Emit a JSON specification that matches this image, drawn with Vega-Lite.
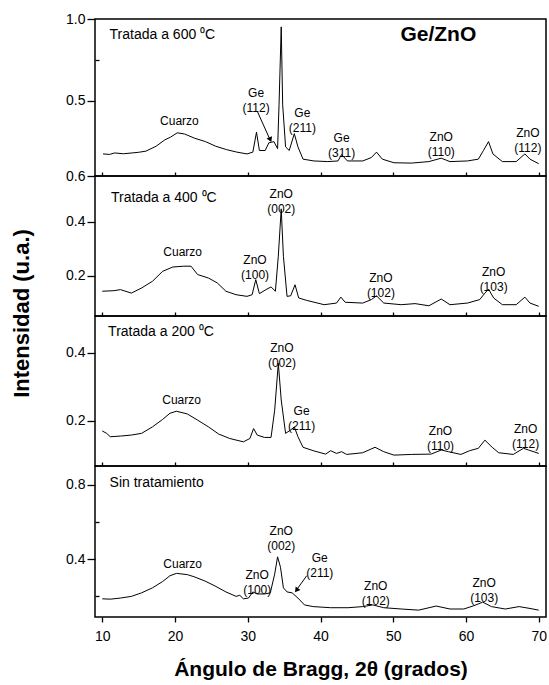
{
"$schema": "https://vega.github.io/schema/vega-lite/v6.json",
"background": "white",
"padding": {"left": 9, "top": 11, "right": 1, "bottom": 0},
"spacing": 0,
"bounds": "flush",
"config": {
  "font": "Liberation Sans",
  "view": {"stroke": "black", "strokeWidth": 1.5},
  "axis": {"domainColor": "black", "domainWidth": 1.5, "tickColor": "black", "tickWidth": 1.3, "labelColor": "black", "labelFontSize": 14, "labelFont": "Liberation Sans", "labelOverlap": false, "grid": false, "titleColor": "black", "titleFont": "Liberation Sans"},
  "text": {"font": "Liberation Sans", "color": "black"}
},
"datasets": {
  "p1": [
    {"angle":10.1,"intensity":0.175},{"angle":11.0,"intensity":0.172},{"angle":11.7,"intensity":0.181},{"angle":12.9,"intensity":0.176},{"angle":14.1,"intensity":0.181},{"angle":15.0,"intensity":0.185},{"angle":16.0,"intensity":0.192},{"angle":17.4,"intensity":0.222},{"angle":18.6,"intensity":0.261},{"angle":19.4,"intensity":0.278},{"angle":20.3,"intensity":0.304},{"angle":21.3,"intensity":0.297},{"angle":22.7,"intensity":0.271},{"angle":24.2,"intensity":0.25},{"angle":25.6,"intensity":0.222},{"angle":27.1,"intensity":0.201},{"angle":28.5,"intensity":0.186},{"angle":29.9,"intensity":0.175},{"angle":30.7,"intensity":0.186},{"angle":31.2,"intensity":0.308},{"angle":31.6,"intensity":0.196},{"angle":32.4,"intensity":0.196},{"angle":32.9,"intensity":0.243},{"angle":33.6,"intensity":0.25},{"angle":34.1,"intensity":0.207},{"angle":34.3,"intensity":0.475},{"angle":34.6,"intensity":0.952},{"angle":34.8,"intensity":0.475},{"angle":35.2,"intensity":0.218},{"angle":35.7,"intensity":0.196},{"angle":36.4,"intensity":0.299},{"angle":36.9,"intensity":0.218},{"angle":37.6,"intensity":0.143},{"angle":39.1,"intensity":0.132},{"angle":41.0,"intensity":0.128},{"angle":42.4,"intensity":0.132},{"angle":42.9,"intensity":0.171},{"angle":43.7,"intensity":0.132},{"angle":45.8,"intensity":0.132},{"angle":47.0,"intensity":0.153},{"angle":47.7,"intensity":0.186},{"angle":48.5,"intensity":0.143},{"angle":50.1,"intensity":0.121},{"angle":52.5,"intensity":0.119},{"angle":54.9,"intensity":0.128},{"angle":56.6,"intensity":0.149},{"angle":57.8,"intensity":0.128},{"angle":60.2,"intensity":0.132},{"angle":61.7,"intensity":0.143},{"angle":62.4,"intensity":0.196},{"angle":63.1,"intensity":0.25},{"angle":63.7,"intensity":0.175},{"angle":65.0,"intensity":0.128},{"angle":66.9,"intensity":0.128},{"angle":68.1,"intensity":0.175},{"angle":68.8,"intensity":0.143},{"angle":70.0,"intensity":0.115}
  ],
  "p2": [
    {"angle":10.0,"intensity":0.142},{"angle":11.6,"intensity":0.144},{"angle":12.5,"intensity":0.148},{"angle":14.0,"intensity":0.135},{"angle":15.4,"intensity":0.154},{"angle":16.9,"intensity":0.179},{"angle":18.3,"intensity":0.216},{"angle":19.7,"intensity":0.232},{"angle":21.2,"intensity":0.235},{"angle":22.2,"intensity":0.235},{"angle":23.1,"intensity":0.204},{"angle":24.6,"intensity":0.191},{"angle":25.8,"intensity":0.173},{"angle":27.0,"intensity":0.142},{"angle":28.4,"intensity":0.129},{"angle":29.9,"intensity":0.123},{"angle":30.6,"intensity":0.129},{"angle":31.1,"intensity":0.185},{"angle":31.6,"intensity":0.133},{"angle":32.5,"intensity":0.148},{"angle":33.2,"intensity":0.158},{"angle":33.8,"intensity":0.142},{"angle":34.2,"intensity":0.272},{"angle":34.6,"intensity":0.448},{"angle":34.9,"intensity":0.272},{"angle":35.4,"intensity":0.123},{"angle":35.9,"intensity":0.125},{"angle":36.5,"intensity":0.166},{"angle":37.0,"intensity":0.117},{"angle":38.1,"intensity":0.108},{"angle":40.5,"intensity":0.092},{"angle":42.2,"intensity":0.098},{"angle":42.8,"intensity":0.12},{"angle":43.4,"intensity":0.101},{"angle":45.8,"intensity":0.098},{"angle":47.0,"intensity":0.111},{"angle":47.7,"intensity":0.125},{"angle":48.7,"intensity":0.098},{"angle":51.1,"intensity":0.092},{"angle":53.0,"intensity":0.096},{"angle":54.9,"intensity":0.088},{"angle":56.6,"intensity":0.113},{"angle":57.8,"intensity":0.092},{"angle":60.2,"intensity":0.098},{"angle":61.9,"intensity":0.111},{"angle":62.6,"intensity":0.135},{"angle":63.1,"intensity":0.15},{"angle":63.8,"intensity":0.117},{"angle":65.0,"intensity":0.092},{"angle":66.9,"intensity":0.092},{"angle":68.1,"intensity":0.12},{"angle":68.8,"intensity":0.098},{"angle":70.0,"intensity":0.086}
  ],
  "p3": [
    {"angle":10.0,"intensity":0.17},{"angle":10.6,"intensity":0.163},{"angle":11.1,"intensity":0.153},{"angle":12.5,"intensity":0.155},{"angle":14.0,"intensity":0.158},{"angle":15.4,"intensity":0.163},{"angle":16.9,"intensity":0.182},{"angle":18.3,"intensity":0.204},{"angle":19.3,"intensity":0.222},{"angle":20.2,"intensity":0.228},{"angle":21.7,"intensity":0.22},{"angle":23.1,"intensity":0.202},{"angle":24.6,"intensity":0.182},{"angle":26.0,"intensity":0.161},{"angle":27.5,"intensity":0.148},{"angle":29.4,"intensity":0.138},{"angle":30.3,"intensity":0.148},{"angle":30.8,"intensity":0.177},{"angle":31.3,"intensity":0.158},{"angle":32.3,"intensity":0.151},{"angle":33.2,"intensity":0.151},{"angle":33.7,"intensity":0.231},{"angle":34.2,"intensity":0.369},{"angle":34.6,"intensity":0.261},{"angle":35.2,"intensity":0.163},{"angle":35.9,"intensity":0.173},{"angle":36.4,"intensity":0.182},{"angle":36.9,"intensity":0.153},{"angle":37.6,"intensity":0.122},{"angle":39.0,"intensity":0.112},{"angle":40.7,"intensity":0.102},{"angle":41.4,"intensity":0.112},{"angle":42.2,"intensity":0.104},{"angle":42.9,"intensity":0.109},{"angle":43.6,"intensity":0.101},{"angle":45.8,"intensity":0.106},{"angle":47.5,"intensity":0.122},{"angle":48.7,"intensity":0.109},{"angle":50.1,"intensity":0.099},{"angle":52.5,"intensity":0.101},{"angle":55.2,"intensity":0.102},{"angle":56.6,"intensity":0.114},{"angle":57.6,"intensity":0.109},{"angle":59.3,"intensity":0.101},{"angle":60.5,"intensity":0.112},{"angle":61.7,"intensity":0.119},{"angle":62.6,"intensity":0.143},{"angle":63.6,"intensity":0.122},{"angle":64.5,"intensity":0.106},{"angle":66.5,"intensity":0.101},{"angle":67.9,"intensity":0.119},{"angle":68.6,"intensity":0.114},{"angle":70.0,"intensity":0.104}
  ],
  "p4": [
    {"angle":10.0,"intensity":0.187},{"angle":11.1,"intensity":0.185},{"angle":12.5,"intensity":0.191},{"angle":14.0,"intensity":0.2},{"angle":15.4,"intensity":0.219},{"angle":16.9,"intensity":0.246},{"angle":18.3,"intensity":0.28},{"angle":19.3,"intensity":0.311},{"angle":20.2,"intensity":0.324},{"angle":21.7,"intensity":0.317},{"angle":22.6,"intensity":0.306},{"angle":24.1,"intensity":0.283},{"angle":25.5,"intensity":0.256},{"angle":27.0,"intensity":0.224},{"angle":28.4,"intensity":0.2},{"angle":28.9,"intensity":0.206},{"angle":29.4,"intensity":0.187},{"angle":30.1,"intensity":0.191},{"angle":30.7,"intensity":0.224},{"angle":31.3,"intensity":0.213},{"angle":32.3,"intensity":0.213},{"angle":33.1,"intensity":0.219},{"angle":33.7,"intensity":0.32},{"angle":34.1,"intensity":0.413},{"angle":34.5,"intensity":0.357},{"angle":34.9,"intensity":0.246},{"angle":35.4,"intensity":0.224},{"angle":36.1,"intensity":0.219},{"angle":36.9,"intensity":0.191},{"angle":37.8,"intensity":0.154},{"angle":39.0,"intensity":0.145},{"angle":41.4,"intensity":0.139},{"angle":43.8,"intensity":0.139},{"angle":45.8,"intensity":0.145},{"angle":47.2,"intensity":0.154},{"angle":48.7,"intensity":0.139},{"angle":51.1,"intensity":0.132},{"angle":53.5,"intensity":0.126},{"angle":55.9,"intensity":0.148},{"angle":57.8,"intensity":0.132},{"angle":59.7,"intensity":0.132},{"angle":61.1,"intensity":0.15},{"angle":62.3,"intensity":0.169},{"angle":63.5,"intensity":0.145},{"angle":65.4,"intensity":0.132},{"angle":67.3,"intensity":0.145},{"angle":68.8,"intensity":0.135},{"angle":70.0,"intensity":0.126}
  ],
  "l1": [
    {"angle":31.15,"intensity":0.548,"label":"Ge\n(112)"},{"angle":37.5,"intensity":0.428,"label":"Ge\n(211)"},{"angle":42.9,"intensity":0.271,"label":"Ge\n(311)"},{"angle":56.6,"intensity":0.276,"label":"ZnO\n(110)"},{"angle":68.5,"intensity":0.304,"label":"ZnO\n(112)"},{"angle":20.6,"intensity":0.379,"label":"Cuarzo"}
  ],
  "l2": [
    {"angle":34.6,"intensity":0.504,"label":"ZnO\n(002)"},{"angle":21.05,"intensity":0.288,"label":"Cuarzo"},{"angle":31.0,"intensity":0.257,"label":"ZnO\n(100)"},{"angle":48.3,"intensity":0.191,"label":"ZnO\n(102)"},{"angle":63.8,"intensity":0.215,"label":"ZnO\n(103)"}
  ],
  "l3": [
    {"angle":34.7,"intensity":0.414,"label":"ZnO\n(002)"},{"angle":20.9,"intensity":0.261,"label":"Cuarzo"},{"angle":37.4,"intensity":0.228,"label":"Ge\n(211)"},{"angle":56.5,"intensity":0.169,"label":"ZnO\n(110)"},{"angle":68.2,"intensity":0.175,"label":"ZnO\n(112)"}
  ],
  "l4": [
    {"angle":34.6,"intensity":0.552,"label":"ZnO\n(002)"},{"angle":21.05,"intensity":0.376,"label":"Cuarzo"},{"angle":31.3,"intensity":0.313,"label":"ZnO\n(100)"},{"angle":39.9,"intensity":0.404,"label":"Ge\n(211)"},{"angle":47.6,"intensity":0.258,"label":"ZnO\n(102)"},{"angle":62.5,"intensity":0.27,"label":"ZnO\n(103)"}
  ]
},
"vconcat": [
  {
    "width": 451, "height": 157,
    "layer": [
      {"data": {"name": "p1"}, "mark": {"type": "line", "color": "black", "strokeWidth": 1},
       "encoding": {
         "x": {"field": "angle", "type": "quantitative", "scale": {"domain": [9, 71], "nice": false, "zero": false}, "axis": {"orient": "bottom", "values": [10,15,20,25,30,35,40,45,50,55,60,65,70], "labels": false, "tickSize": -4, "domain": false, "title": null}},
         "y": {"field": "intensity", "type": "quantitative", "scale": {"domain": [0.04, 1.0], "nice": false, "zero": false}, "axis": {"values": [0.04, 0.5, 0.75, 1.0], "title": null, "domain": false, "labelPadding": 2, "labelExpr": "datum.value == 0.75 ? '' : (datum.value < 0.1 ? '0.6' : format(datum.value, '.1f'))", "tickSize": {"condition": {"test": "datum.value == 0.75", "value": -4}, "value": 8}}}
       }},
      {"data": {"name": "l1"}, "mark": {"type": "text", "fontSize": 12, "lineBreak": "\n", "lineHeight": 15, "align": "center", "baseline": "middle"},
       "encoding": {
         "x": {"field": "angle", "type": "quantitative"},
         "y": {"field": "intensity", "type": "quantitative"},
         "text": {"field": "label"}
       }},
      {"data": {"values": [{"angle": 11.0, "intensity": 0.904, "label": "Tratada a 600 ⁰C"}]}, "mark": {"type": "text", "fontSize": 14, "align": "left", "baseline": "middle"},
       "encoding": {
         "x": {"field": "angle", "type": "quantitative"},
         "y": {"field": "intensity", "type": "quantitative"},
         "text": {"field": "label"}
       }},
      {"data": {"values": [{"angle": 56.2, "intensity": 0.904, "label": "Ge/ZnO"}]}, "mark": {"type": "text", "fontSize": 21, "fontWeight": "bold", "align": "center", "baseline": "middle"},
       "encoding": {
         "x": {"field": "angle", "type": "quantitative"},
         "y": {"field": "intensity", "type": "quantitative"},
         "text": {"field": "label"}
       }},
      {"data": {"values": [{"angle": 31.3, "intensity": 0.437, "angle2": 33.0, "intensity2": 0.268}]}, "mark": {"type": "rule", "color": "black", "strokeWidth": 1},
       "encoding": {
         "x": {"field": "angle", "type": "quantitative"},
         "y": {"field": "intensity", "type": "quantitative"},
         "x2": {"field": "angle2"},
         "y2": {"field": "intensity2"}
       }},
      {"data": {"values": [{"angle": 33.1, "intensity": 0.262}]}, "mark": {"type": "point", "shape": "triangle-down", "filled": true, "color": "black", "size": 35, "angle": -23, "opacity": 1},
       "encoding": {
         "x": {"field": "angle", "type": "quantitative"},
         "y": {"field": "intensity", "type": "quantitative"}
       }}
    ]
  },
  {
    "width": 451, "height": 140,
    "layer": [
      {"data": {"name": "p2"}, "mark": {"type": "line", "color": "black", "strokeWidth": 1},
       "encoding": {
         "x": {"field": "angle", "type": "quantitative", "scale": {"domain": [9, 71], "nice": false, "zero": false}, "axis": {"orient": "bottom", "values": [10,15,20,25,30,35,40,45,50,55,60,65,70], "labels": false, "tickSize": -4, "domain": false, "title": null}},
         "y": {"field": "intensity", "type": "quantitative", "scale": {"domain": [0.05, 0.57], "nice": false, "zero": false}, "axis": {"values": [0.2, 0.4], "format": ".1f", "domain": false, "labelPadding": 2, "tickSize": 8,
           "title": "Intensidad (u.a.)", "titleFontSize": 22, "titleFontWeight": "bold", "titleX": -74, "titleY": 137, "titleAngle": -90, "titleAlign": "center", "titleBaseline": "middle"}}
       }},
      {"data": {"name": "l2"}, "mark": {"type": "text", "fontSize": 12, "lineBreak": "\n", "lineHeight": 15, "align": "center", "baseline": "middle"},
       "encoding": {
         "x": {"field": "angle", "type": "quantitative"},
         "y": {"field": "intensity", "type": "quantitative"},
         "text": {"field": "label"}
       }},
      {"data": {"values": [{"angle": 11.2, "intensity": 0.49, "label": "Tratada a 400 ⁰C"}]}, "mark": {"type": "text", "fontSize": 14, "align": "left", "baseline": "middle"},
       "encoding": {
         "x": {"field": "angle", "type": "quantitative"},
         "y": {"field": "intensity", "type": "quantitative"},
         "text": {"field": "label"}
       }}
    ]
  },
  {
    "width": 451, "height": 150,
    "layer": [
      {"data": {"name": "p3"}, "mark": {"type": "line", "color": "black", "strokeWidth": 1},
       "encoding": {
         "x": {"field": "angle", "type": "quantitative", "scale": {"domain": [9, 71], "nice": false, "zero": false}, "axis": {"orient": "bottom", "values": [10,15,20,25,30,35,40,45,50,55,60,65,70], "labels": false, "tickSize": -4, "domain": false, "title": null}},
         "y": {"field": "intensity", "type": "quantitative", "scale": {"domain": [0.067, 0.508], "nice": false, "zero": false}, "axis": {"values": [0.2, 0.4], "format": ".1f", "title": null, "domain": false, "labelPadding": 2, "tickSize": 8}}
       }},
      {"data": {"name": "l3"}, "mark": {"type": "text", "fontSize": 12, "lineBreak": "\n", "lineHeight": 15, "align": "center", "baseline": "middle"},
       "encoding": {
         "x": {"field": "angle", "type": "quantitative"},
         "y": {"field": "intensity", "type": "quantitative"},
         "text": {"field": "label"}
       }},
      {"data": {"values": [{"angle": 10.8, "intensity": 0.462, "label": "Tratada a 200 ⁰C"}]}, "mark": {"type": "text", "fontSize": 14, "align": "left", "baseline": "middle"},
       "encoding": {
         "x": {"field": "angle", "type": "quantitative"},
         "y": {"field": "intensity", "type": "quantitative"},
         "text": {"field": "label"}
       }}
    ]
  },
  {
    "width": 451, "height": 151,
    "layer": [
      {"data": {"name": "p4"}, "mark": {"type": "line", "color": "black", "strokeWidth": 1},
       "encoding": {
         "x": {"field": "angle", "type": "quantitative", "scale": {"domain": [9, 71], "nice": false, "zero": false}, "axis": {"orient": "bottom", "values": [10,15,20,25,30,35,40,45,50,55,60,65,70], "labelExpr": "datum.value % 10 == 0 ? datum.label : ''", "labelFlush": false, "tickSize": 5, "labelPadding": 7, "domain": false,
           "title": "Ángulo de Bragg, 2θ (grados)", "titleFontSize": 21, "titleFontWeight": "bold", "titlePadding": 15}},
         "y": {"field": "intensity", "type": "quantitative", "scale": {"domain": [0.089, 0.902], "nice": false, "zero": false}, "axis": {"values": [0.2, 0.4, 0.6, 0.8], "title": null, "domain": false, "labelPadding": 2, "labelExpr": "(datum.value == 0.4 || datum.value == 0.8) ? format(datum.value, '.1f') : ''", "tickSize": {"condition": {"test": "datum.value == 0.2 || datum.value == 0.6", "value": -4}, "value": 8}}}
       }},
      {"data": {"name": "l4"}, "mark": {"type": "text", "fontSize": 12, "lineBreak": "\n", "lineHeight": 15, "align": "center", "baseline": "middle"},
       "encoding": {
         "x": {"field": "angle", "type": "quantitative"},
         "y": {"field": "intensity", "type": "quantitative"},
         "text": {"field": "label"}
       }},
      {"data": {"values": [{"angle": 11.0, "intensity": 0.809, "label": "Sin tratamiento"}]}, "mark": {"type": "text", "fontSize": 14, "align": "left", "baseline": "middle"},
       "encoding": {
         "x": {"field": "angle", "type": "quantitative"},
         "y": {"field": "intensity", "type": "quantitative"},
         "text": {"field": "label"}
       }},
      {"data": {"values": [{"angle": 38.1, "intensity": 0.311, "angle2": 36.8, "intensity2": 0.24}]}, "mark": {"type": "rule", "color": "black", "strokeWidth": 1},
       "encoding": {
         "x": {"field": "angle", "type": "quantitative"},
         "y": {"field": "intensity", "type": "quantitative"},
         "x2": {"field": "angle2"},
         "y2": {"field": "intensity2"}
       }},
      {"data": {"values": [{"angle": 36.7, "intensity": 0.233}]}, "mark": {"type": "point", "shape": "triangle-down", "filled": true, "color": "black", "size": 35, "angle": 37, "opacity": 1},
       "encoding": {
         "x": {"field": "angle", "type": "quantitative"},
         "y": {"field": "intensity", "type": "quantitative"}
       }}
    ]
  }
]
}
